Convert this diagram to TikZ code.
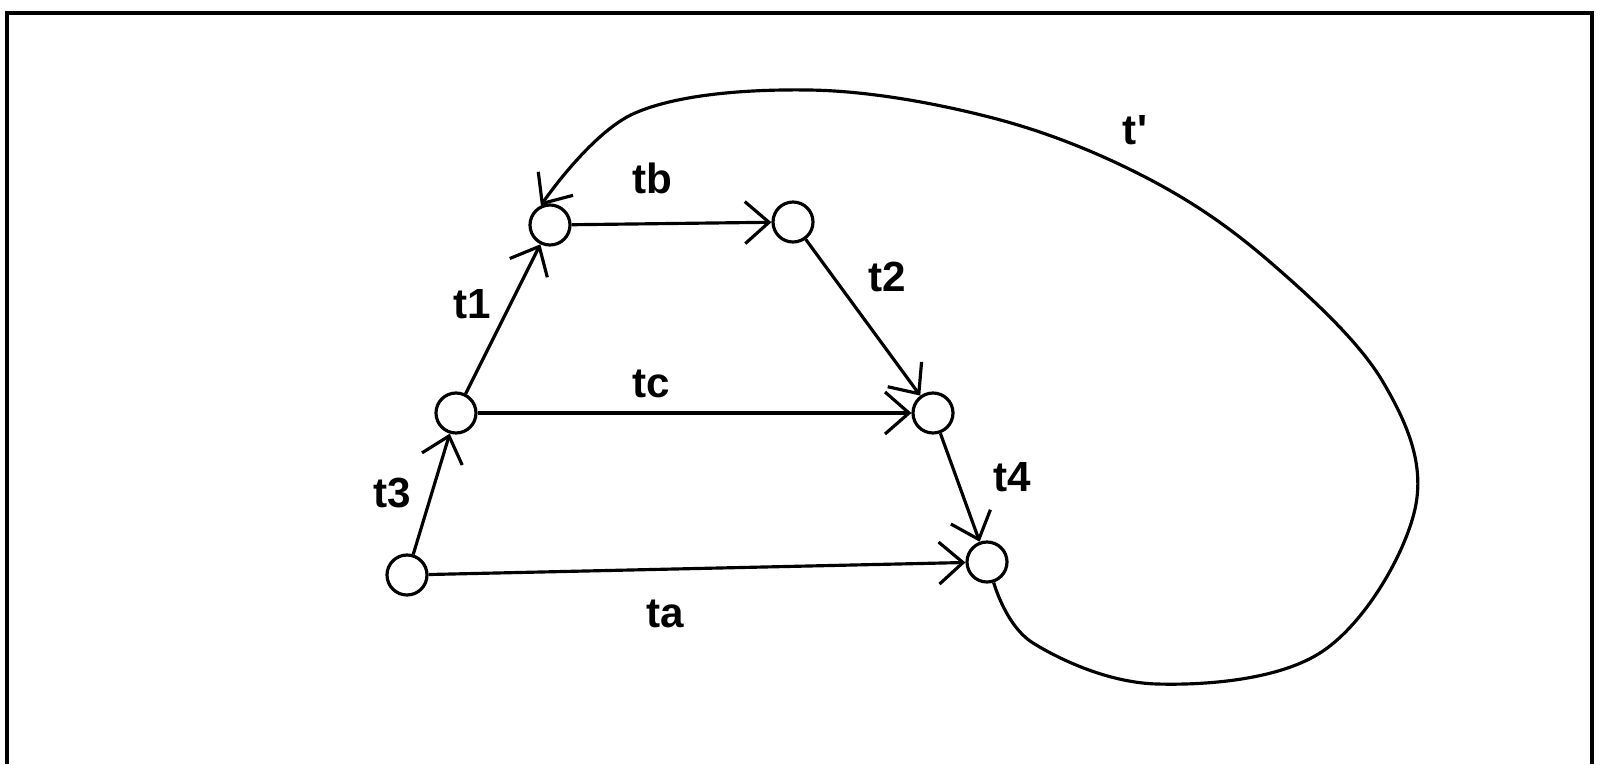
\documentclass[tikz,border=0pt]{standalone}
\usepackage{fontspec}
\setmainfont{Liberation Sans}
\usetikzlibrary{arrows.meta}
\begin{document}
\begin{tikzpicture}[line width=0.9pt,
  state/.style={draw,circle,inner sep=0pt,minimum size=0.40cm},
  lab/.style={font=\fontsize{12}{14}\selectfont\bfseries},
  tr/.style={-{Straight Barb[length=2.4mm,width=4.2mm,line width=0.9pt]}}]
\useasboundingbox (0,0) rectangle (16.05,7.64);
\draw[line width=1.1pt] (0.07,0) |- (15.92,7.51) -- (15.92,0);
\node[state] (n0) at (4.07,1.89) {};
\node[state] (n1) at (4.56,3.51) {};
\node[state] (n2) at (5.50,5.39) {};
\node[state] (n3) at (7.93,5.42) {};
\node[state] (n4) at (9.33,3.51) {};
\node[state] (n5) at (9.87,2.02) {};
\draw[tr] (n0) -- (n1);
\draw[tr] (n1) -- (n2);
\draw[tr] (n2) -- (n3);
\draw[tr] (n3) -- (n4);
\draw[tr] (n1) -- (n4);
\draw[tr] (n4) -- (n5);
\draw[tr] (n0) -- (n5);
\draw[tr] plot[smooth,tension=0.6] coordinates {(n5.-72) (10.33,1.21) (11.57,0.80)
  (13.23,1.13) (14.15,2.55) (13.83,3.82) (12.70,5.02) (11.47,5.86) (9.93,6.46)
  (8.09,6.74) (6.35,6.51) (n2.115)};
\node[lab] (ltb) at (6.52,5.86) {tb};
\node[lab] (lt1) at (4.72,4.60) {t1};
\node[lab] (ltc) at (6.51,3.80) {tc};
\node[lab] (lt2) at (8.87,4.87) {t2};
\node[lab] (lt3) at (3.92,2.71) {t3};
\node[lab] (lt4) at (10.12,2.87) {t4};
\node[lab] (lta) at (6.65,1.50) {ta};
\node[lab] (ltp) at (11.35,6.34) {t\textquotesingle};
\end{tikzpicture}
\end{document}
